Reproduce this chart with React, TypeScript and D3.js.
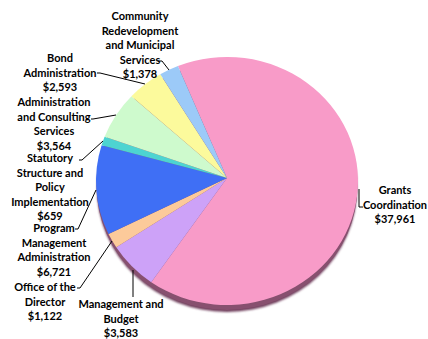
import React from "react";
import * as d3 from "d3";

const categories = [
  "Grants Coordination",
  "Management and Budget",
  "Office of the Director",
  "Program Management Administration",
  "Statutory Structure and Policy Implementation",
  "Administration and Consulting Services",
  "Bond Administration",
  "Community Redevelopment and Municipal Services",
];
const values = [37961, 3583, 1122, 6721, 659, 3564, 2593, 1378];
const labelLines = [
  ["Grants", "Coordination"],
  ["Management and", "Budget"],
  ["Office of the", "Director"],
  ["Program", "Management", "Administration"],
  ["Statutory", "Structure and", "Policy", "Implementation"],
  ["Administration", "and Consulting", "Services"],
  ["Bond", "Administration"],
  ["Community", "Redevelopment", "and Municipal", "Services"],
];
const colors = ["#f89bc8", "#cda2f8", "#fcca9a", "#3f6ff5", "#4dd4d1", "#cefacd", "#fcfa9c", "#9ccaf8"];

// layout
const W = 428, H = 339;
const CX = 227, CY = 181, RX = 131, RY = 124;
const AX = 227, AY = 178;
const LH = 14.6;
const labelPos = [
  { x: 395, y: 190 },
  { x: 121, y: 304 },
  { x: 45, y: 287 },
  { x: 54, y: 228 },
  { x: 50, y: 158 },
  { x: 54, y: 102 },
  { x: 60, y: 58 },
  { x: 140, y: 16 },
];
const leaders: [number, number][][] = [
  [[359, 189], [359, 207], [363, 207]],
  [[133, 270], [133, 297]],
  [[112, 241], [80, 288], [77, 288]],
  [[96, 190], [78, 229], [75, 229]],
  [[103, 141], [82, 160], [79, 160]],
  [[116, 115], [93, 119], [91, 119]],
  [[145, 84], [100, 73], [97, 73]],
  [[169, 70], [162, 61], [158, 61]],
];

const fmt = d3.format(",");
const pt = (a: number): [number, number] => [CX + RX * Math.sin(a), CY - RY * Math.cos(a)];

export default function App() {
  const start = (-22 * Math.PI) / 180;
  const pie = d3
    .pie<number>()
    .sort(null)
    .value((d) => d)
    .startAngle(start)
    .endAngle(start + 2 * Math.PI);
  const arcs = pie(values);

  const slicePath = (a0: number, a1: number) => {
    const p = d3.path();
    const s = pt(a0), e = pt(a1);
    p.moveTo(AX, AY);
    p.lineTo(s[0], s[1]);
    const large = a1 - a0 > Math.PI ? 1 : 0;
    return p.toString() + ` A${RX},${RY} 0 ${large} 1 ${e[0]},${e[1]} Z`;
  };

  const line = d3.line();

  return (
    <svg width={W} height={H} style={{ position: "absolute", left: 0, top: 0, background: "#fff" }}>
      <defs>
        <filter id="blur" x="-10%" y="-10%" width="120%" height="120%">
          <feGaussianBlur stdDeviation="1.2" />
        </filter>
      </defs>
      <ellipse cx={CX} cy={CY + 7} rx={RX - 1} ry={RY} fill="#6f3d5b" filter="url(#blur)" />
      <ellipse cx={CX} cy={CY + 5} rx={RX - 0.5} ry={RY} fill="#87506f" />
      {arcs.map((a, i) => (
        <path key={categories[i]} d={slicePath(a.startAngle, a.endAngle)} fill={colors[i]} />
      ))}
      {leaders.map((pts, i) => (
        <path key={"l" + i} d={line(pts) || ""} fill="none" stroke="#000" strokeWidth={1} />
      ))}
      {labelPos.map((lp, i) => {
        const lines = [...labelLines[i], "$" + fmt(values[i])];
        return (
          <text
            key={"t" + i}
            textAnchor="middle"
            fontFamily="Lato, 'Open Sans', sans-serif"
            fontWeight="bold"
            fontSize={11}
            fill="#000"
          >
            {lines.map((s, j) => (
              <tspan key={j} x={lp.x} y={lp.y + j * LH + 4}>
                {s}
              </tspan>
            ))}
          </text>
        );
      })}
    </svg>
  );
}
